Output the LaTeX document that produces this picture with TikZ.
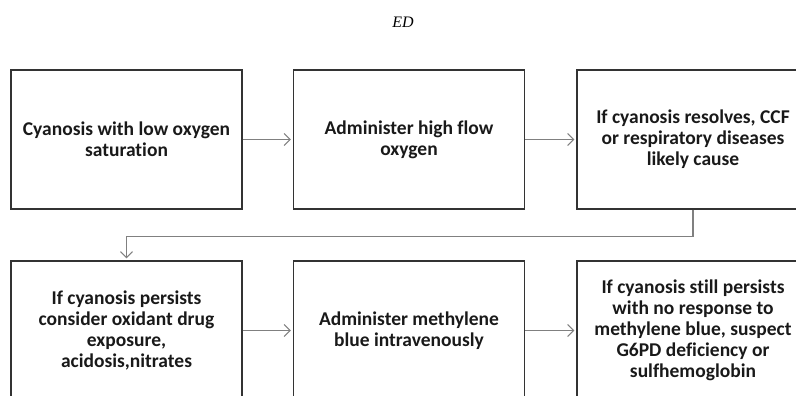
\documentclass[tikz,border=0pt]{standalone}
\usepackage{fontspec}
\setmainfont{Carlito}[Ligatures=NoCommon]
\newfontfamily\titlefont{Liberation Serif}
\usetikzlibrary{arrows.meta}
\begin{document}
\begin{tikzpicture}[x=1pt,y=-1pt,
  box/.style={draw=black!80, line width=1.4pt, minimum width=231pt, minimum height=139pt, inner sep=0pt, align=center, font=\bfseries\fontsize{19.5}{21}\selectfont, text=black!90},
  conn/.style={draw=black!50, line width=1.2pt, -{Straight Barb[length=6pt,width=12pt,line width=1pt]}, shorten >=2pt}]
\useasboundingbox (0,0) rectangle (796,396);
\clip (0,0) rectangle (796,396);
\node[font=\titlefont\itshape\fontsize{16}{18}\selectfont] (title) at (403,22) {ED};
\node[box] (b1) at (126.5,139.5) {Cyanosis with low oxygen\\saturation};
\node[box] (b2) at (409,139.5) {Administer high flow\\oxygen};
\node[box, minimum width=232pt] (b3) at (693,139.5) {If cyanosis resolves, CCF\\or respiratory diseases\\likely cause};
\node[box] (b4) at (126.5,330.5) {If cyanosis persists\\consider oxidant drug\\exposure,\\acidosis,nitrates};
\node[box] (b5) at (409,330.5) {Administer methylene\\blue intravenously};
\node[box, minimum width=232pt] (b6) at (693,330.5) {If cyanosis still persists\\with no response to\\methylene blue, suspect\\G6PD deficiency or\\sulfhemoglobin};
\draw[conn] (b1) -- (b2);
\draw[conn] (b2) -- (b3);
\draw[conn] (b3.south) -- ++(0,27) -| (b4.north);
\draw[conn] (b4) -- (b5);
\draw[conn] (b5) -- (b6);
\end{tikzpicture}
\end{document}
